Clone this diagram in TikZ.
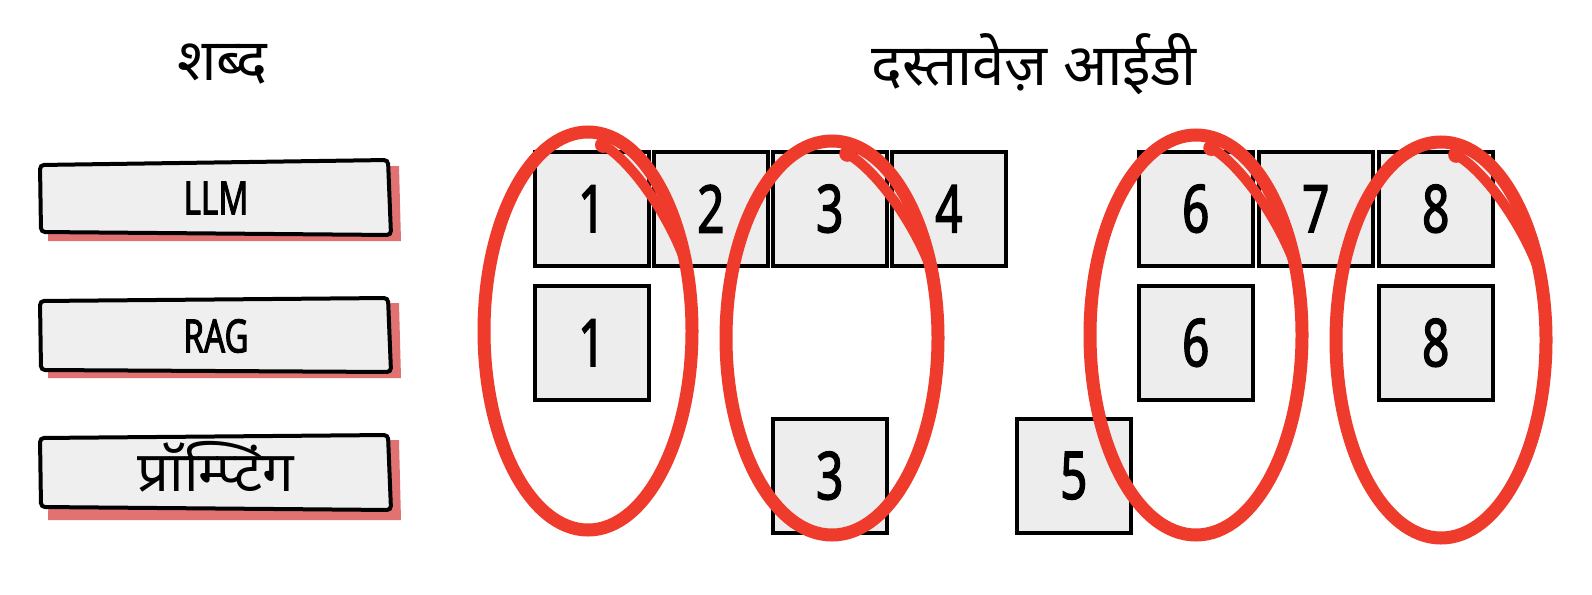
\documentclass[tikz,border=0pt]{standalone}
\usepackage{fontspec}
\newfontfamily\deva[Script=Devanagari]{Noto Sans}
\newfontfamily\cond[FakeStretch=0.72,FakeBold=2]{Noto Sans}
\definecolor{ringred}{HTML}{EE3B2B}
\definecolor{shadowred}{HTML}{E07272}
\definecolor{boxfill}{HTML}{EFEFEF}
\definecolor{sqfill}{HTML}{EDEDED}
\begin{document}
\begin{tikzpicture}[x=1pt,y=-1pt,
  sqbox/.style={draw=black, line width=3.5pt, fill=sqfill, minimum width=114pt, minimum height=114pt,
    inner sep=0pt, anchor=north west, font=\cond\fontsize{66}{66}\selectfont},
  wordframe/.style={draw=black, line width=4pt, fill=boxfill, rounded corners=4pt},
  wordshadow/.style={fill=shadowred},
  wordtext/.style={font=\cond\fontsize{46}{46}\selectfont},
  hinditext/.style={font=\deva\fontsize{56}{56}\selectfont},
  titletext/.style={font=\deva\fontsize{58}{58}\selectfont},
  ring/.style={draw=ringred, line width=13pt},
  ringinner/.style={draw=ringred, line width=10pt},
]
\useasboundingbox (0,0) rectangle (1592,594);
\fill[white] (0,0) rectangle (1592,594);

% titles
\node[titletext] (tw) at (222,64) {शब्द};
\node[titletext] (td) at (1034,64) {दस्तावेज़ आईडी};

% word boxes
\fill[wordshadow] (50,170) -- (399,166) -- (401,241) -- (48,241) -- cycle;
\draw[wordframe] (40,165) -- (388,160) -- (391,235) -- (41,232) -- cycle;
\node[wordtext] (llm) at (216,198) {LLM};

\fill[wordshadow] (50,306) -- (399,303) -- (401,378) -- (48,378) -- cycle;
\draw[wordframe] (40,301) -- (388,298) -- (391,372) -- (41,370) -- cycle;
\node[wordtext] (rag) at (216,336) {RAG};

\fill[wordshadow] (50,442) -- (399,440) -- (401,520) -- (48,520) -- cycle;
\draw[wordframe] (40,438) -- (388,435) -- (391,510) -- (41,507) -- cycle;
\node[hinditext] (prm) at (216,467) {प्रॉम्प्टिंग};

% document id squares
\node[sqbox] (a1) at (533,150) {1};
\node[sqbox] (a2) at (652,150) {2};
\node[sqbox] (a3) at (771,150) {3};
\node[sqbox] (a4) at (890,150) {4};
\node[sqbox] (a6) at (1137,150) {6};
\node[sqbox] (a7) at (1257,150) {7};
\node[sqbox] (a8) at (1377,150) {8};
\node[sqbox] (b1) at (533,284) {1};
\node[sqbox] (b6) at (1137,284) {6};
\node[sqbox] (b8) at (1377,284) {8};
\node[sqbox] (c3) at (771,417) {3};
\node[sqbox] (c5) at (1015,417) {5};

% red rings
\foreach \cx/\cy/\rx/\ry in {588/331/104/199, 832/338/106/197, 1196/335/106/200, 1441/340/105/198}{
  \begin{scope}[shift={(\cx,\cy)}]
    \draw[ring] (0,0) ellipse [x radius=\rx, y radius=\ry];
    \draw[ringinner] ({0.144*\rx},{-0.935*\ry}) .. controls ({0.40*\rx},{-0.86*\ry}) and ({0.76*\rx},{-0.60*\ry}) .. ({0.933*\rx},{-0.352*\ry});
    \fill[ringred] ({0.144*\rx},{-0.935*\ry}) circle (8);
  \end{scope}
}
\end{tikzpicture}
\end{document}
